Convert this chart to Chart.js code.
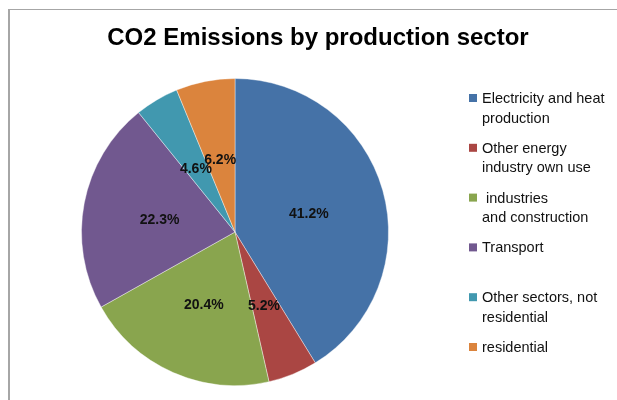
<!DOCTYPE html>
<html>
<head>
<meta charset="utf-8">
<script src="https://cdn.jsdelivr.net/npm/chart.js@4/dist/chart.umd.min.js"></script>
<style>
  html, body { margin: 0; padding: 0; background: #fff; }
  canvas { display: block; }
</style>
</head>
<body>
<canvas id="myChart" width="617" height="400"></canvas>
<script>
const chartTitle = "CO2 Emissions by production sector";
const sectors = [
  "Electricity and heat production",
  "Other energy industry own use",
  "industries and construction",
  "Transport",
  "Other sectors, not residential",
  "residential",
];
// legend text as it wraps in the picture
const legendLines = [
  ["Electricity and heat", "production"],
  ["Other energy", "industry own use"],
  [" industries", "and construction"],
  ["Transport"],
  ["Other sectors, not", "residential"],
  ["residential"],
];
const shares = [41.2, 5.2, 20.4, 22.3, 4.6, 6.2];
const colors = ["#4572A7", "#AA4643", "#89A54E", "#71588F", "#4198AF", "#DB843D"];

// frame, title, slice labels and legend
const decorations = {
  id: "decorations",
  beforeDraw(chart) {
    const c = chart.ctx;
    c.save();
    c.fillStyle = "#fff";
    c.fillRect(0, 0, chart.width, chart.height);
    c.fillStyle = "#a6a6a6";
    c.fillRect(8, 9, chart.width, 1);
    c.fillRect(8, 9, 2, chart.height);
    c.restore();
  },
  afterDatasetsDraw(chart) {
    const c = chart.ctx;
    c.save();
    // title
    c.fillStyle = "#000";
    c.font = "bold 24px 'Liberation Sans'";
    c.textAlign = "center";
    c.textBaseline = "middle";
    c.fillText(chartTitle, 318, 38);

    // percentage labels
    c.font = "bold 14px 'Liberation Sans'";
    c.fillStyle = "#111";
    chart.getDatasetMeta(0).data.forEach((arc, i) => {
      const p = arc.tooltipPosition();
      c.fillText(shares[i].toFixed(1) + "%", p.x, p.y + 3);
    });

    // legend
    c.textAlign = "left";
    c.font = "14.5px 'Liberation Sans'";
    legendLines.forEach((lines, i) => {
      const y = 99 + i * 49.8;
      c.fillStyle = colors[i];
      c.fillRect(469, y - 5, 8, 8);
      c.fillStyle = "#111";
      lines.forEach((t, j) => c.fillText(t, 482, y + j * 19.5));
    });
    c.restore();
  },
};

const ctx = document.getElementById("myChart");

new Chart(ctx, {
  type: "pie",
  data: {
    labels: sectors,
    datasets: [
      {
        data: shares,
        backgroundColor: colors,
        borderColor: "rgba(255, 255, 255, 0.4)",
        borderWidth: 1,
      },
    ],
  },
  options: {
    responsive: false,
    devicePixelRatio: 1,
    animation: false,
    layout: {
      padding: { left: 81, right: 228, top: 77, bottom: 13 },
    },
    plugins: {
      legend: { display: false },
      title: { display: false },
      tooltip: { enabled: false },
    },
  },
  plugins: [decorations],
});
</script>
</body>
</html>
